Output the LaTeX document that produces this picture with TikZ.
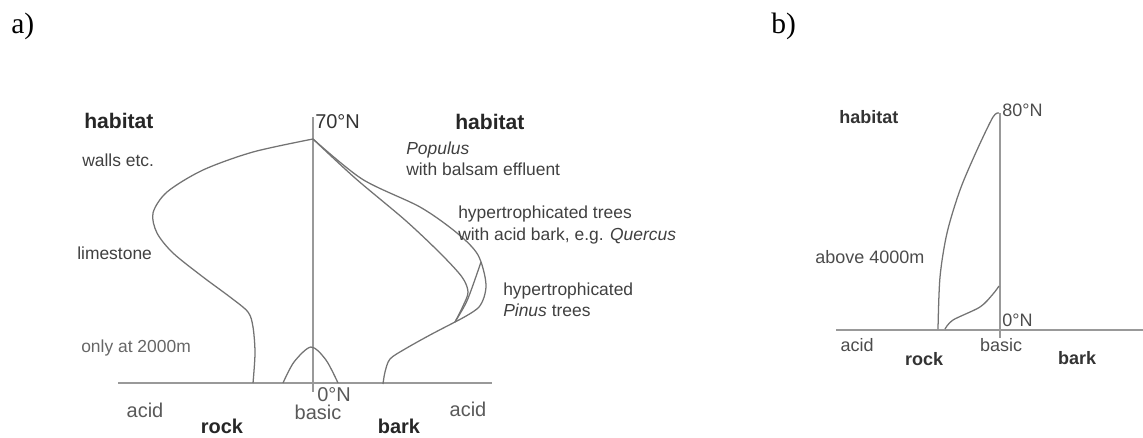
\documentclass[tikz,border=0pt]{standalone}
\usepackage{fontspec}
\setmainfont{Liberation Serif}
\setsansfont{Liberation Sans}

\begin{document}
\begin{tikzpicture}[x=0.025cm,y=-0.025cm,
		curve/.style={black!55,line width=0.9pt},
		axis/.style={black!40,line width=1.3pt},
		txt/.style={font=\sffamily\fontsize{12.4}{15.2}\selectfont,text=black!75,anchor=west,inner sep=0pt,align=left},
		head/.style={font=\sffamily\bfseries\fontsize{15}{18}\selectfont,text=black!85,anchor=west,inner sep=0pt},
		foot/.style={font=\sffamily\fontsize{14.2}{17}\selectfont,text=black!65,inner sep=0pt},
		footb/.style={font=\sffamily\bfseries\fontsize{14.2}{17}\selectfont,text=black!85,inner sep=0pt},
		small/.style={font=\sffamily\fontsize{12.8}{15}\selectfont,text=black!70,inner sep=0pt},
		smallb/.style={font=\sffamily\bfseries\fontsize{12.8}{15}\selectfont,text=black!80,inner sep=0pt},
		panel/.style={font=\fontsize{21}{24}\selectfont,anchor=west,inner sep=0pt}]
			\useasboundingbox (0,0) rectangle (1143,437);
			\node[panel] (pa) at (11,26) {a)};
			\node[panel] (pb) at (771,26) {b)};
			% panel a: rock on the left, bark on the right
			\coordinate (aTop) at (313,117);
			\coordinate (aBot) at (313,392);
			\coordinate (aL) at (118,383);
			\coordinate (aR) at (492,383);
			\draw[axis] (aL) -- (aR);
			\draw[axis] (aTop) -- (aBot);
			\draw[curve] plot[smooth] coordinates {(313,139) (253,152) (203,170) (167,192) (153,213) (157,233) (173,253) (203,277) (230,297) (248,312) (253,327) (255,353) (253,383)};
			\draw[curve] plot[smooth] coordinates {(283,383) (294,362) (311,347) (326,360) (338,383)};
			\draw[curve] plot[smooth] coordinates {(313,139) (362,179) (420,207) (457,233) (478,255) (486,285) (479,307) (455,322)};
			\draw[curve] plot[smooth] coordinates {(313,139) (355,178) (405,220) (440,253) (462,277) (468,292) (463,306) (455,322)};
			\draw[curve] plot[smooth] coordinates {(481,262) (473,285) (466,303) (455,322)};
			\draw[curve] plot[smooth] coordinates {(455,322) (430,335) (405,349) (390,359) (385,372) (383,384)};
			\node[head] (habA) at (84,121) {habitat};
			\node[foot,anchor=west,text=black!80] (nA) at (315,122) {70°N};
			\node[txt] (walls) at (82,160) {walls etc.};
			\node[txt] (lime) at (77,253) {limestone};
			\node[txt,text=black!60] (alt2000) at (81,348) {only at 2000m};
			\node[foot] (acidA) at (145,410) {acid};
			\node[footb] (rockA) at (222,426) {rock};
			\node[foot] (basicA) at (318,412) {basic};
			\node[foot,anchor=west] (zeroA) at (317,395) {0°N};
			\node[footb] (barkA) at (399,426) {bark};
			\node[foot] (acidB) at (468,409) {acid};
			\node[head] (habB) at (455,122) {habitat};
			\node[txt] (populus) at (406,159) {\itshape Populus\\with balsam effluent};
			\node[txt] (quercus) at (458,225) {hypertrophicated trees\\with acid bark, e.g. \itshape Quercus};
			\node[txt] (pinus) at (503,300) {hypertrophicated\\\itshape Pinus\upshape{} trees};
			% panel b: rock only, basic side
			\coordinate (bTop) at (1000,113);
			\coordinate (bBot) at (1000,338);
			\coordinate (bL) at (836,330);
			\coordinate (bR) at (1143,330);
			\draw[axis] (bL) -- (bR);
			\draw[axis] (bTop) -- (bBot);
			\draw[curve] plot[smooth] coordinates {(938,329) (940,277) (947,233) (960,190) (977,150) (993,117) (999,113)};
			\draw[curve] plot[smooth] coordinates {(945,329) (953,320) (980,307) (993,294) (999,286)};
			\node[smallb,anchor=west] (habC) at (839,117) {habitat};
			\node[small,anchor=west] (nB) at (1002,110) {80°N};
			\node[small,anchor=west] (alt4000) at (815,257) {above 4000m};
			\node[small,anchor=west] (zeroB) at (1002,320) {0°N};
			\node[small] (acidC) at (857,345) {acid};
			\node[smallb] (rockB) at (924,359) {rock};
			\node[small] (basicB) at (1001,345) {basic};
			\node[smallb] (barkB) at (1077,358) {bark};
		\end{tikzpicture}
\end{document}
